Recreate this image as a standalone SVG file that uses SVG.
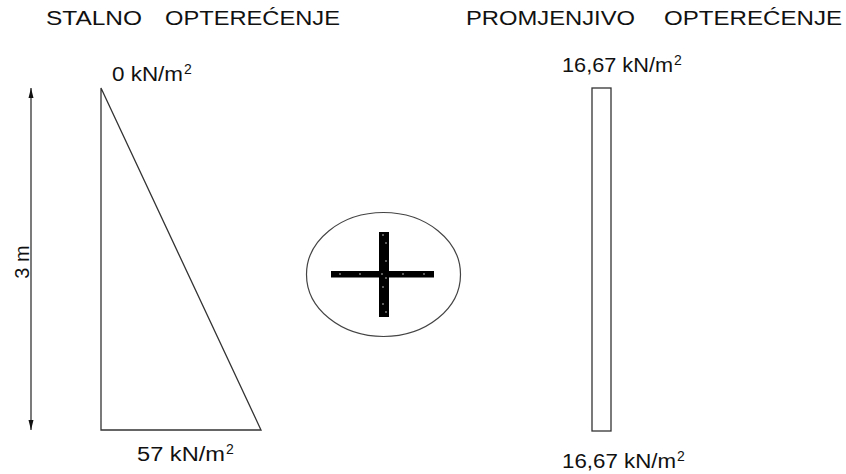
<svg xmlns="http://www.w3.org/2000/svg" width="846" height="474" viewBox="0 0 846 474">
  <defs>
    <style>
      text { font-family: "Liberation Sans", Arial, sans-serif; font-size: 20px; fill: #111; }
      .ln { fill: none; stroke: #333; stroke-width: 1.3; }
      .sup { font-size: 14px; }
    </style>
    <marker id="ah" viewBox="0 0 10 10" refX="10" refY="5" markerWidth="10" markerHeight="10" markerUnits="userSpaceOnUse" orient="auto">
      <path d="M0,2.5 L10,5 L0,7.5 Z" fill="#111"/>
    </marker>
  </defs>
  <rect width="846" height="474" fill="#fff"/>

  <g id="title-left">
    <text x="46" y="25" textLength="96" lengthAdjust="spacingAndGlyphs">STALNO</text>
    <text x="165" y="25" textLength="175" lengthAdjust="spacingAndGlyphs">OPTEREĆENJE</text>
  </g>
  <g id="title-right">
    <text x="466" y="25" textLength="169" lengthAdjust="spacingAndGlyphs">PROMJENJIVO</text>
    <text x="664" y="25" textLength="178" lengthAdjust="spacingAndGlyphs">OPTEREĆENJE</text>
  </g>

  <g id="dimension">
    <line class="ln" x1="31" y1="260" x2="31" y2="88" marker-end="url(#ah)"/>
    <line class="ln" x1="31" y1="260" x2="31" y2="430" marker-end="url(#ah)"/>
    <text transform="translate(29,262) rotate(-90)" text-anchor="middle">3 m</text>
  </g>

  <g id="permanent-load">
    <path class="ln" d="M101,88 L101,430 L261,430 Z"/>
    <text x="112" y="81" textLength="71" lengthAdjust="spacingAndGlyphs">0 kN/m</text>
    <text x="184" y="74" class="sup">2</text>
    <text x="137" y="461" textLength="88" lengthAdjust="spacingAndGlyphs">57 kN/m</text>
    <text x="226" y="454" class="sup">2</text>
  </g>

  <g id="plus">
    <ellipse cx="383.5" cy="274.5" rx="77" ry="62" fill="none" stroke="#444" stroke-width="1.2"/>
    <rect x="331" y="271" width="103" height="6.5" fill="#000"/>
    <rect x="379" y="232" width="10" height="85" fill="#000"/>
    <g fill="#fff">
      <circle cx="340" cy="274" r="0.7"/>
      <circle cx="360" cy="274" r="0.7"/>
      <circle cx="382" cy="274" r="0.7"/>
      <circle cx="403" cy="274" r="0.7"/>
      <circle cx="424" cy="274" r="0.7"/>
      <circle cx="383" cy="235" r="0.7"/>
      <circle cx="386" cy="243" r="0.7"/>
      <circle cx="386" cy="261" r="0.7"/>
      <circle cx="386" cy="278" r="0.7"/>
      <circle cx="383" cy="287" r="0.7"/>
      <circle cx="383" cy="304" r="0.7"/>
      <circle cx="386" cy="312" r="0.7"/>
    </g>
  </g>

  <g id="variable-load">
    <rect class="ln" x="592" y="88" width="19" height="343"/>
    <text x="562" y="72" textLength="111" lengthAdjust="spacingAndGlyphs">16,67 kN/m</text>
    <text x="674" y="65" class="sup">2</text>
    <text x="562" y="468" textLength="114" lengthAdjust="spacingAndGlyphs">16,67 kN/m</text>
    <text x="677" y="461" class="sup">2</text>
  </g>
</svg>
